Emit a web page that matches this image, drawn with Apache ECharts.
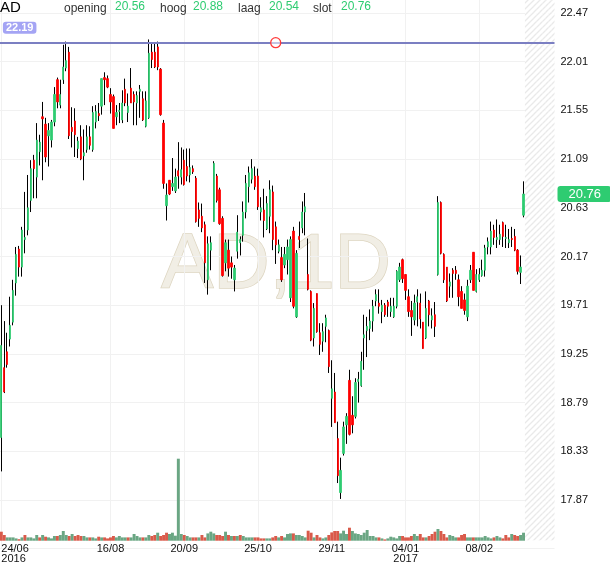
<!DOCTYPE html>
<html><head><meta charset="utf-8">
<script src="https://cdn.jsdelivr.net/npm/echarts@6/dist/echarts.min.js"></script>
<style>html,body{margin:0;padding:0;background:#fff}#c{width:610px;height:568px}</style>
</head><body><div id="c"></div>
<script>
// ---- data ----
const opens = [19.72,18.46,19.12,19.27,19.39,19.55,19.92,20.24,20.07,20.33,20.42,20.70,21.08,20.92,21.16,21.49,21.42,21.31,21.27,21.44,21.84,21.60,21.84,21.95,22.10,
21.39,21.45,21.19,21.30,21.12,21.18,21.30,21.18,21.44,21.52,21.59,21.86,21.85,21.70,21.68,21.49,21.54,21.46,21.75,21.53,21.76,21.70,21.62,21.73,21.66,
21.40,21.48,22.10,22.10,22.15,21.94,21.43,20.65,20.89,20.83,20.79,20.98,20.92,21.08,21.02,20.94,21.00,20.91,20.61,20.55,20.47,19.95,20.23,20.50,20.93,
20.80,20.53,20.11,20.23,20.11,19.95,20.22,20.30,20.37,20.59,20.83,20.90,20.93,20.93,20.59,20.61,20.43,20.55,20.78,20.45,20.22,20.16,20.09,20.14,19.78,
20.41,19.60,20.36,20.44,20.59,20.00,19.84,19.40,19.82,19.45,19.37,19.51,19.47,18.83,18.89,18.45,17.94,18.31,18.58,19.00,18.67,18.66,18.99,18.95,19.40,
19.47,19.49,19.56,19.75,19.73,19.65,19.71,19.74,19.65,19.60,19.70,19.95,20.14,20.00,19.79,19.66,19.57,19.74,19.73,19.55,19.40,19.75,19.57,19.62,20.00,
20.68,20.19,20.07,19.89,20.04,20.04,19.95,19.84,19.76,19.60,19.95,20.21,19.84,19.95,19.99,20.04,20.26,20.26,20.42,20.33,20.33,20.49,20.34,20.30,20.34,
20.36,20.23,20.02,20.56];
const highs = [20.77,19.71,19.56,19.45,19.79,19.95,20.26,20.27,20.45,20.78,20.94,21.08,21.13,21.43,21.32,21.63,21.48,21.43,21.46,21.77,21.86,21.84,22.17,22.20,22.15,
21.58,21.57,21.30,21.41,21.37,21.41,21.40,21.59,21.60,21.62,21.85,21.91,21.88,21.76,21.70,21.60,21.62,21.74,21.85,21.71,21.95,21.73,21.73,21.79,21.73,
21.73,22.22,22.18,22.18,22.20,21.95,21.46,20.86,20.89,21.10,21.00,21.25,21.20,21.18,21.19,21.19,21.03,20.93,20.68,20.67,20.50,20.36,20.36,21.07,20.95,
20.82,20.55,20.33,20.33,20.17,20.09,20.56,20.36,20.69,20.94,21.02,21.09,21.02,21.00,20.73,20.81,20.74,20.89,20.84,20.50,20.33,20.26,20.26,20.33,20.36,
20.45,20.23,20.50,20.69,20.77,20.34,19.85,19.73,19.82,19.54,19.54,19.62,19.48,19.19,19.07,18.61,18.27,18.61,18.69,19.10,18.85,19.02,19.08,19.27,19.62,
19.60,19.67,19.76,19.86,19.86,19.76,19.73,19.76,19.78,19.78,20.04,20.11,20.15,20.00,19.86,19.75,19.81,19.86,19.82,19.55,19.84,19.76,19.68,19.74,20.74,
20.69,20.20,20.07,20.01,20.06,20.08,20.00,19.89,19.82,19.95,20.09,20.21,20.05,20.06,20.14,20.28,20.35,20.50,20.47,20.52,20.47,20.50,20.47,20.43,20.45,
20.43,20.24,20.18,20.88];
const lows = [19.70,18.14,18.88,19.12,19.32,19.52,19.80,19.98,19.98,20.20,20.37,20.59,20.72,20.72,21.03,20.89,21.06,21.02,21.20,21.40,21.57,21.57,21.80,21.92,21.28,
21.20,21.11,21.10,21.08,20.89,21.15,21.18,21.16,21.38,21.45,21.51,21.60,21.76,21.52,21.38,21.41,21.43,21.43,21.59,21.44,21.62,21.41,21.41,21.48,21.45,
21.39,21.47,21.95,21.95,21.93,21.50,20.81,20.51,20.75,20.79,20.77,20.81,20.85,20.84,20.88,20.87,20.95,20.49,20.45,20.40,19.92,19.81,20.04,20.50,20.68,
20.47,19.98,20.03,19.98,19.96,19.84,20.15,20.18,20.31,20.53,20.68,20.86,20.80,20.61,20.51,20.35,20.42,20.39,20.23,20.10,20.20,19.93,20.06,20.00,19.74,
19.68,19.59,20.25,20.39,20.37,19.85,19.37,19.32,19.45,19.24,19.27,19.36,19.07,18.56,18.60,18.03,17.88,18.29,18.40,18.48,18.50,18.64,18.79,18.94,19.10,
19.22,19.38,19.46,19.70,19.63,19.54,19.60,19.60,19.60,19.59,19.68,19.93,19.92,19.76,19.60,19.42,19.52,19.51,19.49,19.30,19.39,19.51,19.49,19.41,19.99,
20.19,19.92,19.74,19.78,19.78,19.95,19.70,19.68,19.62,19.56,19.92,19.85,19.83,19.93,19.98,19.98,20.19,20.19,20.28,20.25,20.28,20.26,20.25,20.25,20.26,
20.22,20.00,19.91,20.54];
const closes = [20.35,19.33,18.89,19.15,19.52,19.85,20.19,20.07,20.42,20.35,20.63,21.00,21.00,21.27,21.25,21.47,21.11,21.36,21.44,21.70,21.63,21.70,21.96,22.02,21.31,
21.35,21.32,21.26,21.09,21.15,21.30,21.22,21.53,21.54,21.50,21.85,21.84,21.77,21.63,21.38,21.53,21.55,21.62,21.62,21.59,21.62,21.63,21.69,21.75,21.46,
21.64,22.09,22.03,21.96,21.96,21.51,20.86,20.75,20.76,20.86,20.92,20.93,20.99,20.85,20.93,21.01,20.97,20.50,20.53,20.44,20.11,20.29,20.30,21.05,20.70,
20.48,19.99,20.30,20.06,20.07,20.06,20.40,20.33,20.59,20.86,20.96,21.00,20.83,20.64,20.63,20.51,20.67,20.80,20.33,20.28,20.28,19.95,20.19,20.26,20.33,
19.70,20.20,20.33,20.59,20.64,19.86,19.38,19.68,19.46,19.34,19.46,19.59,19.13,18.92,18.60,18.10,18.15,18.56,18.66,18.49,18.58,18.98,19.01,19.18,19.43,
19.51,19.56,19.70,19.81,19.70,19.71,19.62,19.70,19.70,19.70,20.03,20.07,19.96,19.85,19.65,19.60,19.73,19.79,19.58,19.30,19.68,19.62,19.61,19.51,20.68,
20.20,19.95,19.75,19.93,20.01,20.01,19.79,19.68,19.66,19.89,20.04,19.85,20.00,20.00,20.04,20.25,20.31,20.41,20.35,20.35,20.38,20.36,20.35,20.33,20.33,
20.23,20.03,20.07,20.76];
// volume, million shares
const volumes = [5,9,5.7,3.3,3.3,3.3,2.3,1.5,3.3,5.7,3.3,3.3,2.3,5.7,3.3,5.7,4,3.3,2.3,4.7,4.7,5.7,9.7,5.7,4.7,
6.7,4.7,5.7,4.7,4.7,3.3,3.3,3.3,2.3,4,3.3,3.3,2.3,3.3,4.7,3.3,4.7,3.3,3.3,3.3,3.3,6.7,4.7,3.3,3.3,
3.3,5.7,4.7,5.7,8,4.7,5.7,8,6.7,8,5,82,
6.7,5.7,4.7,3.3,3.3,3.3,3.3,5.7,3.3,7.3,9,7.3,5.7,5.7,4.7,9,5.7,4.7,4.7,4.7,5.7,4.7,3.3,3.3,3.3,3.3,3.3,
2.3,2.3,2.3,2.3,3.3,4.7,3.3,4.7,3.3,6.7,7.3,
7.3,5.7,5.7,4.7,3.3,10,8,3.3,5.7,3.3,2.3,3.3,5.7,8.3,9.7,9.7,7.3,10,6.7,13,9.7,7.3,6.7,5.7,8,10.7,4.7,4.7,3.3,3.3,
2.3,1.3,2.3,4,3.3,2.3,4.7,4.7,3.3,3.3,4.7,6.7,4.7,6.7,3.3,3.3,4.7,6.7,9,11.7,
9.7,6.7,3.3,5.7,4.7,3.3,3.3,5.7,6.7,3.3,3.3,3.3,3.3,3.3,3.3,4.7,3.3,2.3,3.3,4.7,3.3,2.3,5.7,3.3,6.7,5.7,4.7,5.7,8];
const priceTicks = {first: 17.41, last: 22.93, step: 0.46};
const xLabelDates = ['24/06','16/08','20/09','25/10','29/11','04/01','08/02'];
const xLabelYears = {'24/06':'2016','04/01':'2017'};
const hLineValue = 22.19;
const hLineHandleDate = '02/11';
const lastQuote = {open:20.56, high:20.88, low:20.54, close:20.76};
const futureSlots = 10;
const symbolName = 'AD';
const watermark = 'AD,1D';

// ---- trading-day categories ----
const holidays = ['26/12/2016'];
const dates = [];
{
  const d = new Date(2016, 5, 23);
  const p2 = n => (n < 10 ? '0' : '') + n;
  while (dates.length < opens.length + futureSlots) {
    const wd = d.getDay();
    const dm = p2(d.getDate()) + '/' + p2(d.getMonth() + 1);
    if (wd !== 0 && wd !== 6 && holidays.indexOf(dm + '/' + d.getFullYear()) < 0) dates.push(dm);
    d.setDate(d.getDate() + 1);
  }
}

// ---- styles ----
const UP = '#2ecc71', DOWN = '#ff0000';
const VUP = '#6aa683', VDOWN = '#d95a4a';
const FONT = 'Liberation Sans, Arial, sans-serif';
const GRIDC = '#f1f1f1';

const pat = document.createElement('canvas');
pat.width = 6; pat.height = 6;
{
  const g = pat.getContext('2d');
  g.fillStyle = '#ffffff'; g.fillRect(0, 0, 6, 6);
  g.strokeStyle = '#e9e9e9'; g.lineWidth = 1.3;
  g.beginPath();
  g.moveTo(0, 6); g.lineTo(6, 0);
  g.moveTo(-1, 1); g.lineTo(1, -1);
  g.moveTo(5, 7); g.lineTo(7, 5);
  g.stroke();
}

const labelSet = new Set(xLabelDates);
const wickData = opens.map((o, i) => [o, closes[i], lows[i], highs[i]]);
const bodyData = opens.map((o, i) => [o, closes[i], Math.min(o, closes[i]), Math.max(o, closes[i])]);
const volData = volumes.map((v, i) => ({
  value: v,
  itemStyle: {color: (i === 0 || closes[i] >= closes[i - 1]) ? VUP : VDOWN}
}));
const n = opens.length;
const futureBase = dates.map((d, i) => i >= n ? 17.49 : null);
const futureTop = dates.map((d, i) => i >= n ? priceTicks.last - 17.49 : null);

const chart = echarts.init(document.getElementById('c'), null, {renderer: 'canvas'});
const option = {
  animation: false,
  backgroundColor: '#fff',
  textStyle: {fontFamily: FONT},
  grid: [
    {left: -3.1, right: 55.5, top: -35.7, bottom: 19.3, outerBoundsMode: 'none', containLabel: false},
    {left: -3.1, right: 55.5, top: 440.7, bottom: 27.3, outerBoundsMode: 'none', containLabel: false}
  ],
  xAxis: [
    {type: 'category', gridIndex: 0, data: dates, boundaryGap: true,
     axisLine: {show: false}, axisTick: {show: false}, axisLabel: {show: false},
     splitLine: {show: true, alignWithLabel: true, interval: (i, v) => labelSet.has(v), lineStyle: {color: GRIDC, width: 1}}},
    {type: 'category', gridIndex: 1, boundaryGap: true,
     data: dates.map(d => d === xLabelDates[0] ? {value: d, textStyle: {align: 'left'}} : d),
     axisLine: {show: false}, axisTick: {show: false}, splitLine: {show: false},
     axisLabel: {show: true, interval: (i, v) => labelSet.has(v), color: '#111', fontSize: 11, fontFamily: FONT,
       margin: 3, lineHeight: 10,
       formatter: v => xLabelYears[v] ? v + '\n' + xLabelYears[v] : v}}
  ],
  yAxis: [
    {type: 'value', gridIndex: 0, position: 'right', min: priceTicks.first, max: priceTicks.last, interval: priceTicks.step,
     axisLine: {show: false}, axisTick: {show: false},
     splitLine: {show: true, lineStyle: {color: GRIDC, width: 1}},
     axisLabel: {color: '#111', fontSize: 11, fontFamily: FONT, margin: 6, showMinLabel: false, showMaxLabel: false,
       formatter: v => v.toFixed(2)}},
    {type: 'value', gridIndex: 1, min: 0, max: 100, show: false, splitLine: {show: false}}
  ],
  graphic: [
    {type: 'text', x: 276, y: 266, z: 0, silent: true,
     style: {text: watermark, fontSize: 78, fontFamily: FONT, fill: '#f1eee5', stroke: '#ddd5c0', lineWidth: 1.5, align: 'center', verticalAlign: 'middle'}},
    {type: 'text', x: 0, y: 7.5, z: 10, style: {text: symbolName, fontSize: 15, fontFamily: FONT, fill: '#000', verticalAlign: 'middle'}},
    {type: 'text', x: 64, y: 8.6, z: 10, style: {text: 'opening', fontSize: 12, fontFamily: FONT, fill: '#333', verticalAlign: 'middle'}},
    {type: 'text', x: 115, y: 6.8, z: 10, style: {text: lastQuote.open.toFixed(2), fontSize: 12, fontFamily: FONT, fill: UP, verticalAlign: 'middle'}},
    {type: 'text', x: 160, y: 8.6, z: 10, style: {text: 'hoog', fontSize: 12, fontFamily: FONT, fill: '#333', verticalAlign: 'middle'}},
    {type: 'text', x: 193, y: 6.8, z: 10, style: {text: lastQuote.high.toFixed(2), fontSize: 12, fontFamily: FONT, fill: UP, verticalAlign: 'middle'}},
    {type: 'text', x: 238, y: 8.6, z: 10, style: {text: 'laag', fontSize: 12, fontFamily: FONT, fill: '#333', verticalAlign: 'middle'}},
    {type: 'text', x: 269, y: 6.8, z: 10, style: {text: lastQuote.low.toFixed(2), fontSize: 12, fontFamily: FONT, fill: UP, verticalAlign: 'middle'}},
    {type: 'text', x: 313, y: 8.6, z: 10, style: {text: 'slot', fontSize: 12, fontFamily: FONT, fill: '#333', verticalAlign: 'middle'}},
    {type: 'text', x: 341, y: 6.8, z: 10, style: {text: lastQuote.close.toFixed(2), fontSize: 12, fontFamily: FONT, fill: UP, verticalAlign: 'middle'}}
  ],
  series: [
    {type: 'bar', name: 'futureBase', xAxisIndex: 0, yAxisIndex: 0, stack: 'future', data: futureBase,
     barCategoryGap: '0%', itemStyle: {color: 'rgba(0,0,0,0)'}, silent: true, z: 1},
    {type: 'bar', name: 'future', xAxisIndex: 0, yAxisIndex: 0, stack: 'future', data: futureTop,
     barCategoryGap: '0%', itemStyle: {color: {image: pat, repeat: 'repeat'}}, silent: true, z: 1},
    {type: 'bar', name: 'volume', xAxisIndex: 1, yAxisIndex: 1, data: volData, barCategoryGap: '0%', silent: true, z: 2},
    {type: 'candlestick', name: 'wick', xAxisIndex: 0, yAxisIndex: 0, data: wickData, barWidth: 0.1, silent: true, z: 3,
     itemStyle: {color: '#000', color0: '#000', borderColor: '#000', borderColor0: '#000', borderColorDoji: '#000', borderWidth: 1}},
    {type: 'candlestick', name: 'body', xAxisIndex: 0, yAxisIndex: 0, data: bodyData, barWidth: 1.8, silent: true, z: 4, clip: false,
     itemStyle: {color: UP, color0: DOWN, borderColor: UP, borderColor0: DOWN, borderWidth: 0.8},
     markLine: {
       symbol: ['none', 'none'], silent: true, animation: false,
       data: [
         {yAxis: hLineValue, lineStyle: {color: '#7b7fc2', width: 2, type: 'solid'},
          label: {show: true, position: 'insideStartTop', distance: [6, 9], formatter: () => hLineValue.toFixed(2),
            color: '#fff', fontWeight: 'bold', fontSize: 11, fontFamily: FONT, backgroundColor: '#a4a4f4',
            padding: [1, 3, 0, 3], borderRadius: 3}},
         {yAxis: lastQuote.close, lineStyle: {color: 'rgba(0,0,0,0)', width: 0.01},
          label: {show: true, position: 'end', distance: 3, formatter: () => lastQuote.close.toFixed(2),
            color: '#fff', fontSize: 13, fontFamily: FONT, backgroundColor: UP,
            padding: [2, 10, 1, 11], borderRadius: 3}}
       ]
     },
     markPoint: {
       silent: true, animation: false,
       data: [{coord: [hLineHandleDate, hLineValue], symbol: 'circle', symbolSize: 10,
         itemStyle: {color: 'rgba(255,255,255,0.55)', borderColor: '#ff3b3b', borderWidth: 1.3}, label: {show: false}}]
     }}
  ]
};
chart.setOption(option);
</script>
</body></html>
